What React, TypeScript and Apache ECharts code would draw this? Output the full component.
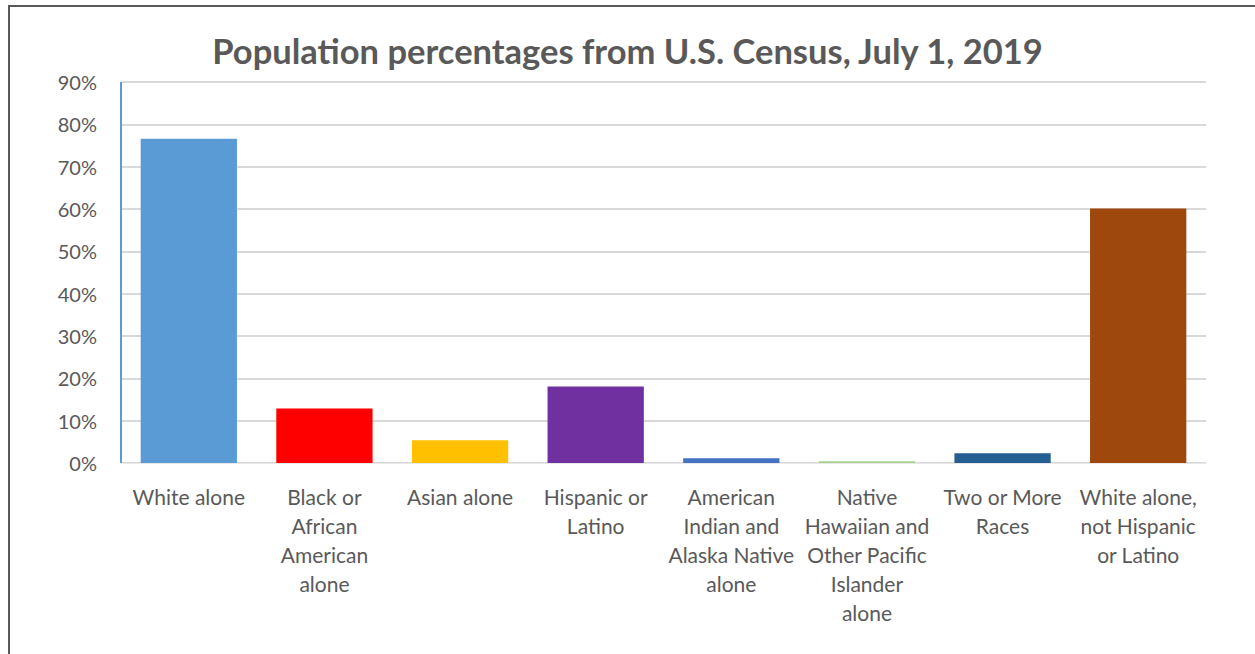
import React, { useEffect, useRef } from "react";
import * as echarts from "echarts";

const titleText = "Population percentages from U.S. Census, July 1, 2019";

const categories = [
  "White alone",
  "Black or\nAfrican\nAmerican\nalone",
  "Asian alone",
  "Hispanic or\nLatino",
  "American\nIndian and\nAlaska Native\nalone",
  "Native\nHawaiian and\nOther Pacific\nIslander\nalone",
  "Two or More\nRaces",
  "White alone,\nnot Hispanic\nor Latino",
];

const percentValues = [76.6, 12.9, 5.4, 18.1, 1.1, 0.4, 2.3, 60.1];

const barColors = [
  "#5B9BD5",
  "#FF0000",
  "#FFC000",
  "#7030A0",
  "#4472C4",
  "#A9D18E",
  "#255E91",
  "#9E480E",
];

const yMin = 0;
const yMax = 90;
const yStep = 10;

export default function App() {
  const ref = useRef<HTMLDivElement>(null);

  useEffect(() => {
    if (!ref.current) return;
    const chart = echarts.init(ref.current, null, { renderer: "svg" });
    const font = "Lato, 'Open Sans', sans-serif";
    chart.setOption({
      animation: false,
      backgroundColor: "#ffffff",
      title: {
        text: titleText,
        left: "center",
        top: 28,
        textStyle: {
          fontFamily: font,
          fontWeight: "bold",
          fontSize: 34.5,
          color: "#595959",
        },
      },
      grid: { left: 121, top: 82, right: 49, bottom: 191, containLabel: false },
      xAxis: {
        type: "category",
        data: categories,
        z: 5,
        axisLine: {
          show: true,
          lineStyle: { color: "rgba(255,255,255,0.4)", width: 1 },
        },
        axisTick: { show: false },
        axisLabel: {
          interval: 0,
          margin: 19,
          fontFamily: font,
          fontSize: 21,
          lineHeight: 29,
          color: "#595959",
          align: "center",
        },
      },
      yAxis: {
        type: "value",
        min: yMin,
        max: yMax,
        interval: yStep,
        axisLine: { show: false },
        axisTick: { show: false },
        axisLabel: {
          formatter: "{value}%",
          margin: 24,
          fontFamily: font,
          fontSize: 20,
          color: "#595959",
        },
        splitLine: { show: true, lineStyle: { color: "#D9D9D9", width: 2 } },
      },
      series: [
        {
          type: "bar",
          barWidth: "71%",
          data: percentValues.map((v, i) => ({
            value: v,
            itemStyle: { color: barColors[i] },
          })),
        },
      ],
    });
    chart.setOption({
      graphic: [
        {
          type: "rect",
          shape: { x: 9, y: 6, width: 1300, height: 700 },
          style: { fill: "none", stroke: "#595959", lineWidth: 2 },
          silent: true,
        },
        {
          type: "line",
          shape: {
            x1: 121,
            y1: chart.convertToPixel({ yAxisIndex: 0 }, yMax),
            x2: 121,
            y2: chart.convertToPixel({ yAxisIndex: 0 }, yMin),
          },
          style: { stroke: "#5B9BD5", lineWidth: 2 },
          silent: true,
          z: 10,
        },
      ],
    });
    return () => chart.dispose();
  }, []);

  return (
    <div
      ref={ref}
      style={{
        position: "fixed",
        left: 0,
        top: 0,
        width: 1255,
        height: 654,
        background: "#fff",
      }}
    />
  );
}
